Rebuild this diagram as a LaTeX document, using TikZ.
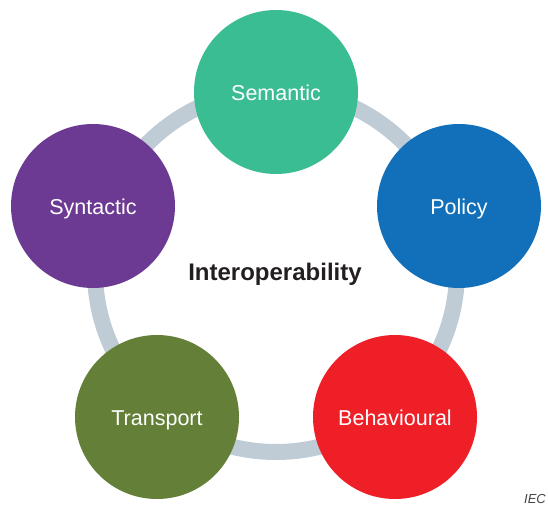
\documentclass[tikz,border=0pt]{standalone}
\usepackage{fontspec}
\setmainfont{Liberation Sans}

\definecolor{semcol}{HTML}{3BBD93}
\definecolor{polcol}{HTML}{1170B9}
\definecolor{behcol}{HTML}{EE1F27}
\definecolor{tracol}{HTML}{647F37}
\definecolor{syncol}{HTML}{6C3A92}
\definecolor{ringcol}{HTML}{BFCCD6}
\definecolor{txtcol}{HTML}{231F20}

\begin{document}
\begin{tikzpicture}[x=1pt, y=-1pt,
    main/.style = {circle, minimum size=164pt, inner sep=0pt, text=white,
                   text height=1.75em, text depth=0pt,
                   font=\fontsize{21.5}{24}\selectfont},
    ring/.style = {draw=ringcol, line width=16pt}]
    \useasboundingbox (0,0) rectangle (548,506);
    \node[text=txtcol, font=\bfseries\fontsize{24}{28}\selectfont] (c) at (275,274) {Interoperability};
    \draw[ring] (276,271) circle[radius=181pt];
    \node[main, fill=semcol] (1) at (276,92)  {Semantic};
    \node[main, fill=polcol] (2) at (459,206) {Policy};
    \node[main, fill=behcol] (3) at (395,417) {Behavioural};
    \node[main, fill=tracol] (4) at (157,417) {Transport};
    \node[main, fill=syncol] (5) at (93,206)  {Syntactic};
    \node[anchor=base east, inner sep=0pt, text=txtcol!85,
          font=\itshape\fontsize{13}{15}\selectfont] (iec) at (546,503) {IEC};
\end{tikzpicture}
\end{document}
